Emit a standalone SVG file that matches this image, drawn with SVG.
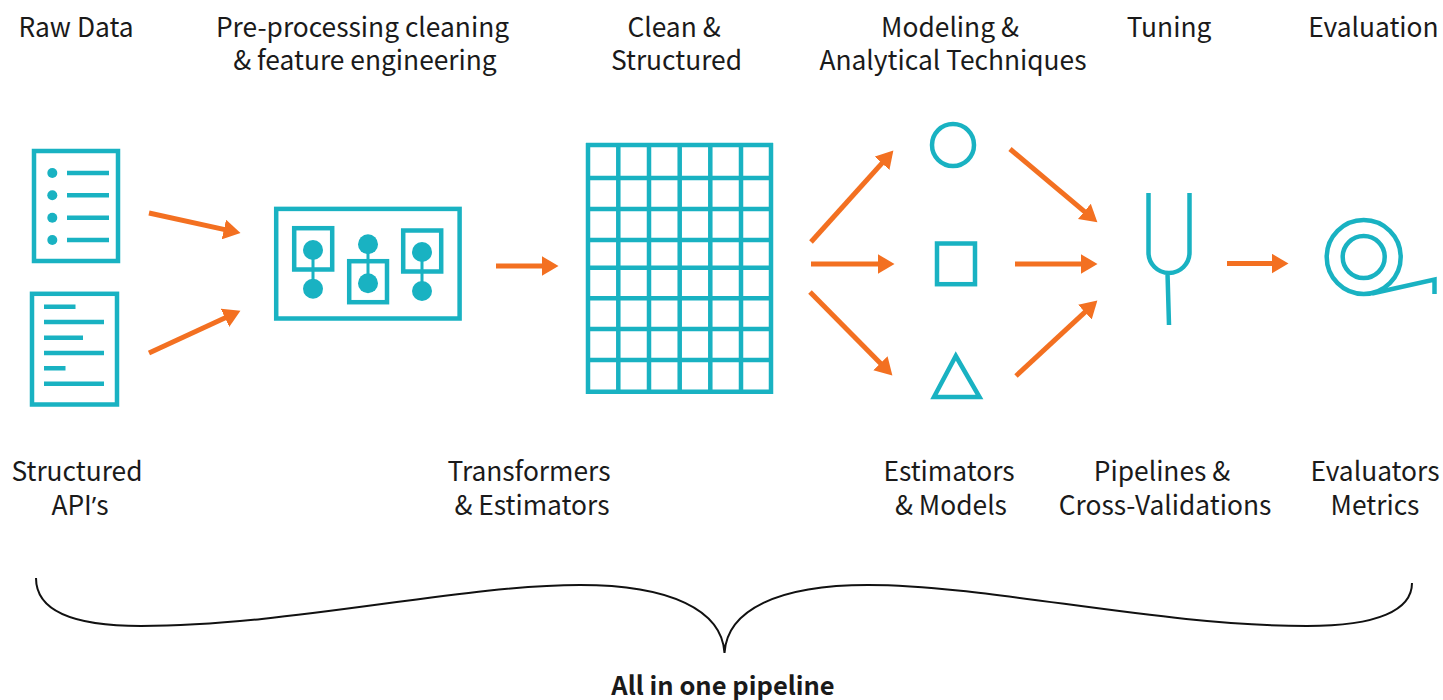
<svg xmlns="http://www.w3.org/2000/svg" width="1443" height="700" viewBox="0 0 1443 700">
<style>
.t{font-family:"Noto Sans CJK SC","Noto Sans",sans-serif;font-size:26.35px;fill:#1a1a1a;text-anchor:middle}
.b{font-weight:700;font-size:25.5px}
.q{font-family:"Open Sans",sans-serif}
.s{fill:none;stroke:#19b2c2;stroke-width:4.5}
.f{fill:#19b2c2}
.a{fill:none;stroke:#f37021;stroke-width:5;marker-end:url(#h)}
</style>
<defs><marker id="h" markerUnits="userSpaceOnUse" markerWidth="18" markerHeight="20" refX="4.5" refY="10" orient="auto"><polygon points="0,0 17,10 0,20" fill="#f37021"/></marker></defs>
<rect width="1443" height="700" fill="#fff"/>
<g id="labels">
<text class="t" x="76" y="37">Raw Data</text>
<text class="t" x="362.5" y="37">Pre-processing cleaning</text>
<text class="t" x="365" y="70">&amp; feature engineering</text>
<text class="t" x="674" y="37">Clean &amp;</text>
<text class="t" x="676.5" y="70">Structured</text>
<text class="t" x="950" y="37">Modeling &amp;</text>
<text class="t" x="953" y="70">Analytical Techniques</text>
<text class="t" x="1169" y="37">Tuning</text>
<text class="t" x="1373.5" y="37">Evaluation</text>
<text class="t" x="77" y="481">Structured</text>
<text class="t" x="80" y="515">API<tspan class="q">’</tspan>s</text>
<text class="t" x="529" y="481">Transformers</text>
<text class="t" x="532" y="515">&amp; Estimators</text>
<text class="t" x="949" y="481">Estimators</text>
<text class="t" x="951" y="515">&amp; Models</text>
<text class="t" x="1162" y="481">Pipelines &amp;</text>
<text class="t" x="1165" y="515">Cross-Validations</text>
<text class="t" x="1375" y="481">Evaluators</text>
<text class="t" x="1375" y="515">Metrics</text>
<text class="t b" x="723" y="695">All in one pipeline</text>
</g>
<g id="raw-list">
<rect class="s" x="34" y="151" width="84" height="110"/>
<circle class="f" cx="52.3" cy="173" r="5"/><circle class="f" cx="52.3" cy="195.3" r="5"/><circle class="f" cx="52.3" cy="217.7" r="5"/><circle class="f" cx="52.3" cy="240" r="5"/>
<path class="s" d="M67 173H109M67 195.3H109M67 217.7H109M67 240H109"/>
</g>
<g id="raw-doc">
<rect class="s" x="32" y="293.8" width="85" height="110.7"/>
<path class="s" d="M44 306.7H75.5M44 322H104M44 337.7H83M44 353H104M44 368.3H65.5M44 383.7H104"/>
</g>
<g id="transformers">
<rect class="s" x="276.2" y="208.9" width="183.4" height="109.6"/>
<rect class="s" x="294.2" y="228.2" width="38" height="41.3"/>
<rect class="s" x="349.2" y="261.2" width="37.8" height="41"/>
<rect class="s" x="403.2" y="230.5" width="38" height="41"/>
<path class="s" style="stroke-width:3" d="M313 250V288.7M368 244.3V283.3M422 252V291"/>
<circle class="f" cx="313" cy="250" r="10"/><circle class="f" cx="313" cy="288.7" r="10"/>
<circle class="f" cx="368" cy="244.3" r="10"/><circle class="f" cx="368" cy="283.3" r="10"/>
<circle class="f" cx="422" cy="252" r="10"/><circle class="f" cx="422" cy="291" r="10"/>
</g>
<g id="grid">
<path class="s" d="M588 143V394M618.3 143V394M649 143V394M679.7 143V394M710.3 143V394M741 143V394M771 143V394M586 145H773M586 178H773M586 209H773M586 240H773M586 267.7H773M586 298.3H773M586 329H773M586 360H773M586 391.7H773"/>
</g>
<g id="model-circle"><circle class="s" cx="953" cy="145" r="21"/></g>
<g id="model-square"><rect class="s" x="937" y="243.5" width="38" height="40.7"/></g>
<g id="model-triangle"><polygon class="s" points="955.8,356 979.5,397 934,397"/></g>
<g id="tuning-fork"><path class="s" d="M1148.5 193V252.5A20.5 20.5 0 0 0 1189.5 252.5V193M1167.5 273L1169 325"/></g>
<g id="evaluation-roll">
<circle class="s" cx="1363.7" cy="257" r="37"/><circle class="s" cx="1363.7" cy="257" r="21"/>
<path class="s" d="M1372 293.5L1434.5 279.5V294"/>
</g>
<g id="connectors">
<path class="a" d="M149 213L228.3 230.4"/>
<path class="a" d="M149 353L229.1 316"/>
<path class="a" d="M496 266H546"/>
<path class="a" d="M811 242L885 159.9"/>
<path class="a" d="M811 264H882"/>
<path class="a" d="M810 292L883.6 366.5"/>
<path class="a" d="M1010 149L1087.8 214.3"/>
<path class="a" d="M1015 264H1085"/>
<path class="a" d="M1016 376L1088.2 309.1"/>
<path class="a" d="M1227 263.5H1276"/>
</g>
<g id="brace"><path fill="none" stroke="#111" stroke-width="2" d="M36 578C36 610 70 626 141 626C290 626 460 585 580 585C670 585 722 610 724.5 653C727 610 778 585 868 585C988 585 1158 626 1307 626C1378 626 1412 610 1412 583"/></g>
</svg>
